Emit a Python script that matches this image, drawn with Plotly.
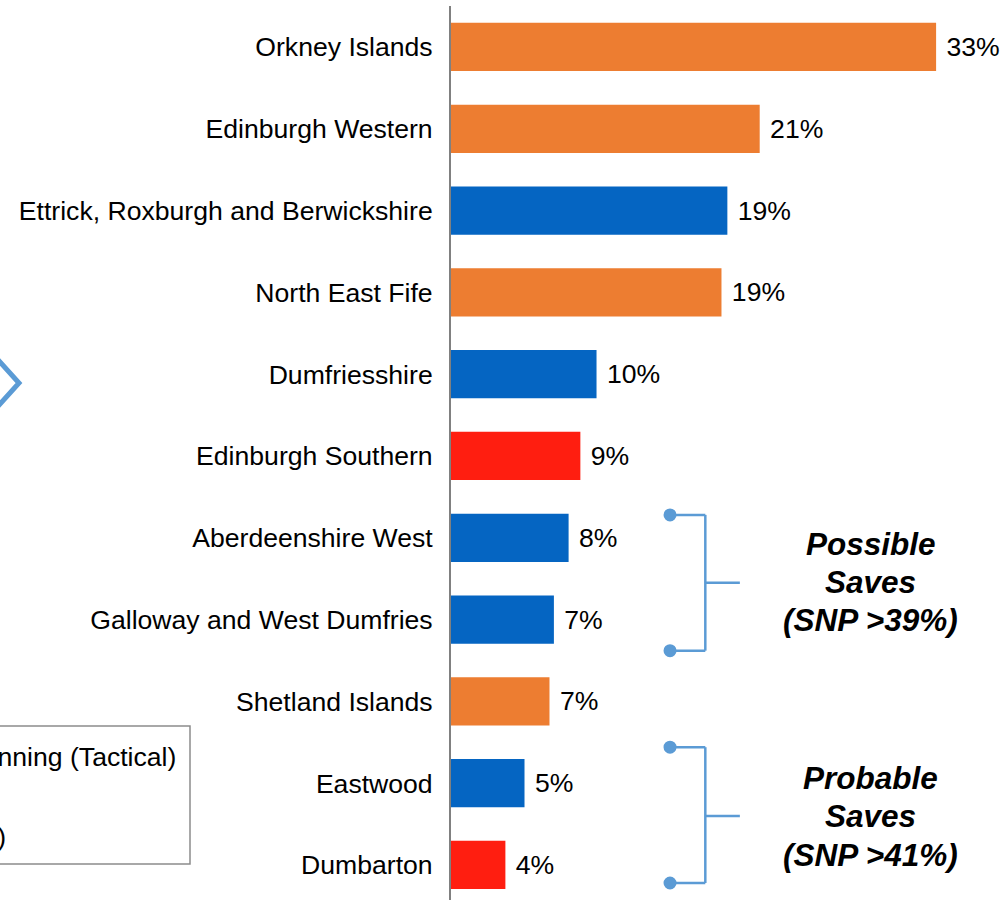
import plotly.graph_objects as go

constituencies = [
    "Orkney Islands", "Edinburgh Western", "Ettrick, Roxburgh and Berwickshire",
    "North East Fife", "Dumfriesshire", "Edinburgh Southern", "Aberdeenshire West",
    "Galloway and West Dumfries", "Shetland Islands", "Eastwood", "Dumbarton",
]
margins = [33.0, 21.0, 18.8, 18.4, 9.9, 8.8, 8.0, 7.0, 6.7, 5.0, 3.7]
labels = ["33%", "21%", "19%", "19%", "10%", "9%", "8%", "7%", "7%", "5%", "4%"]
parties = ["LD", "LD", "CON", "LD", "CON", "LAB", "CON", "CON", "LD", "CON", "LAB"]

possible_lines = ["Possible", "Saves", "(SNP >39%)"]
probable_lines = ["Probable", "Saves", "(SNP >41%)"]
legend_texts = ["Lib Dem winning (Tactical)", "SNP (Target)"]

party_colors = {"LD": "#ED7D31", "CON": "#0565C2", "LAB": "#FF1E10"}
bracket_color = "#5B9BD5"
FONT = "Liberation Sans, Arial, sans-serif"

W, H = 1000, 900
L, T = 451, 6
PLOT_W, PLOT_H = W - L, H - T


def px_x(page_x):
    return (page_x - L) / PLOT_W


def px_y(page_y):
    return (H - page_y) / PLOT_H


fig = go.Figure()
fig.add_trace(go.Bar(
    y=constituencies, x=margins, orientation="h",
    marker=dict(color=[party_colors[p] for p in parties], line=dict(width=0)),
    text=[" " + t for t in labels], textposition="outside", cliponaxis=False,
    textfont=dict(family=FONT, size=26.6, color="#000000"),
    hoverinfo="skip",
))

shapes = []


def bracket(y_top, y_bot, y_mid):
    s = []
    line = dict(color=bracket_color, width=2.5)
    s.append(dict(type="line", xref="x", yref="y", x0=14.9, x1=17.3, y0=y_top, y1=y_top, line=line))
    s.append(dict(type="line", xref="x", yref="y", x0=14.9, x1=17.3, y0=y_bot, y1=y_bot, line=line))
    s.append(dict(type="line", xref="x", yref="y", x0=17.3, x1=17.3, y0=y_top, y1=y_bot, line=line))
    s.append(dict(type="line", xref="x", yref="y", x0=17.3, x1=19.65, y0=y_mid, y1=y_mid, line=line))
    for yy in (y_top, y_bot):
        s.append(dict(type="circle", xref="x", yref="y", xsizemode="pixel", ysizemode="pixel",
                      xanchor=14.9, yanchor=yy, x0=-6.5, x1=6.5, y0=-6.5, y1=6.5,
                      fillcolor=bracket_color, line=dict(width=0)))
    return s


shapes += bracket(5.72, 7.38, 6.55)
shapes += bracket(8.56, 10.22, 9.40)

# chevron partly visible at the left edge
shapes.append(dict(type="path", xref="paper", yref="paper",
                   path=f"M {px_x(-4)} {px_y(357.5)} L {px_x(19)} {px_y(383)} L {px_x(-4)} {px_y(408.5)}",
                   line=dict(color=bracket_color, width=5)))
# legend box partly visible at left
shapes.append(dict(type="rect", xref="paper", yref="paper",
                   x0=px_x(-60), x1=px_x(190), y0=px_y(864), y1=px_y(726),
                   line=dict(color="#8C8C8C", width=1.5), fillcolor="rgba(0,0,0,0)"))

annotations = []
for lines, ys in ((possible_lines, (6.076, 6.540, 7.005)), (probable_lines, (8.936, 9.401, 9.878))):
    for t, yy in zip(lines, ys):
        annotations.append(dict(xref="x", yref="y", x=28.55, y=yy, showarrow=False,
                                xanchor="center", yanchor="middle",
                                text=f"<b><i>{t}</i></b>",
                                font=dict(family=FONT, size=31.5, color="#000000")))

annotations.append(dict(xref="paper", yref="paper", x=px_x(178), y=px_y(757),
                        xanchor="right", yanchor="middle",
                        showarrow=False, text=legend_texts[0],
                        font=dict(family=FONT, size=26.6, color="#000000")))
annotations.append(dict(xref="paper", yref="paper", x=px_x(8), y=px_y(837),
                        xanchor="right", yanchor="middle",
                        showarrow=False, text=legend_texts[1],
                        font=dict(family=FONT, size=26.6, color="#000000")))

fig.update_layout(
    width=W, height=H,
    margin=dict(l=L, r=0, t=T, b=0, pad=0),
    paper_bgcolor="white", plot_bgcolor="white",
    showlegend=False, bargap=0.41, hovermode=False,
    shapes=shapes, annotations=annotations,
    font=dict(family=FONT, size=26.6, color="#000000"),
    xaxis=dict(range=[0, PLOT_W / 14.7], visible=False, showgrid=False, zeroline=False),
    yaxis=dict(range=[10.428, -0.501], showline=True, linecolor="#808080", linewidth=2,
               showgrid=False, zeroline=False, ticks="", ticklabelstandoff=11,
               tickfont=dict(family=FONT, size=26.6, color="#000000")),
)

fig.write_html(
    "out.html",
    config={"displayModeBar": False, "staticPlot": True},
    post_script="document.body.style.margin='0px';document.body.style.overflow='hidden';",
)
